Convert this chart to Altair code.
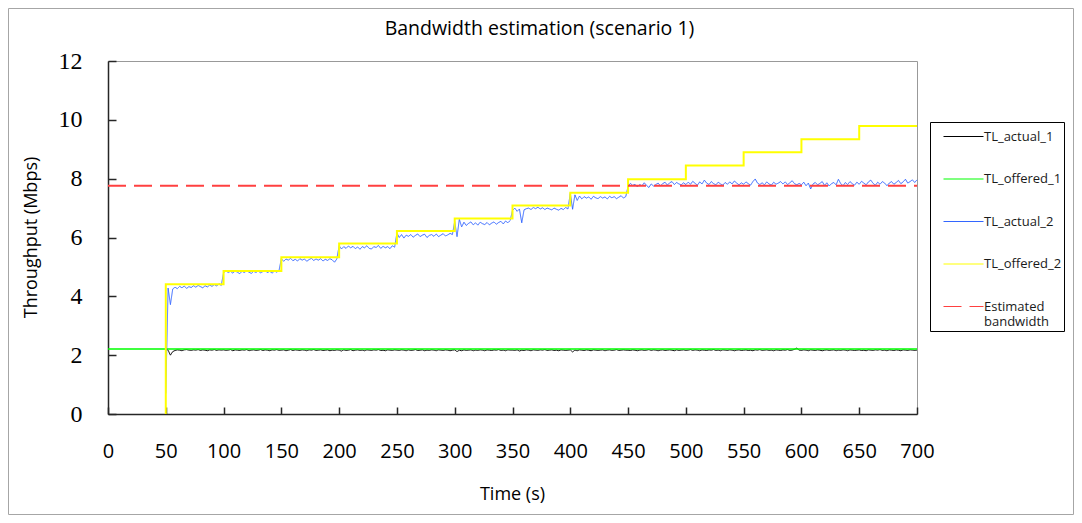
import altair as alt
import pandas as pd

SERIES = ["TL_actual_1", "TL_offered_1", "TL_actual_2", "TL_offered_2", "Estimated bandwidth"]
COLORS = ["#000000", "#00ff00", "#3366ff", "#ffff00", "#ff4040"]
DASHES = [[1, 0], [1, 0], [1, 0], [1, 0], [18, 8]]

X_TICKS = [0, 50, 100, 150, 200, 250, 300, 350, 400, 450, 500, 550, 600, 650, 700]
Y_TICKS = [0, 2, 4, 6, 8, 10, 12]

# TL_offered_1 (constant offered rate of flow 1)
offered1_t = [0, 700]
offered1_v = [2.21, 2.21]

# Estimated bandwidth
est_t = [0, 700]
est_v = [7.76, 7.76]

# TL_offered_2 (step increases every 50 s)
offered2_t = [50, 50, 100, 150, 200, 250, 300, 350, 400, 450, 500, 550, 600, 650, 700]
offered2_v = [0.0, 4.41, 4.86, 5.33, 5.80, 6.22, 6.65, 7.09, 7.52, 7.98, 8.45, 8.90, 9.34, 9.79, 9.79]

# TL_actual_2 sampled every 2 s from t = 50 s
actual2_v = [
    0.7, 4.28, 3.72, 4.25, 4.31, 4.26, 4.34, 4.29, 4.35, 4.27, 4.33, 4.3, 4.36, 4.31, 4.37, 4.33, 4.29, 4.36, 4.32, 4.38, 4.34, 4.4, 4.35, 4.43, 4.37,
    4.8, 4.87, 4.81, 4.85, 4.79, 4.86, 4.82, 4.77, 4.85, 4.81, 4.87, 4.82, 4.78, 4.85, 4.81, 4.86, 4.8, 4.84, 4.87, 4.81, 4.85, 4.79, 4.86, 4.82, 4.88,
    5.28, 5.19, 5.27, 5.23, 5.29, 5.21, 5.26, 5.2, 5.28, 5.23, 5.27, 5.19, 5.25, 5.29, 5.22, 5.27, 5.23, 5.28, 5.2, 5.26, 5.22, 5.28, 5.24, 5.16, 5.27,
    5.72, 5.61, 5.69, 5.63, 5.71, 5.65, 5.7, 5.62, 5.68, 5.6, 5.69, 5.65, 5.72, 5.63, 5.61, 5.69, 5.66, 5.73, 5.63, 5.7, 5.65, 5.69, 5.62, 5.72, 5.67,
    6.15, 6.0, 6.1, 5.98, 6.08, 6.04, 6.1, 6.01, 6.07, 6.12, 6.03, 6.08, 6.11, 6.0, 6.07, 6.1, 6.04, 6.12, 6.03, 6.08, 6.13, 6.05, 6.09, 6.14, 6.1,
    6.54, 6.03, 6.62, 6.36, 6.52, 6.41, 6.48, 6.53, 6.43, 6.5, 6.42, 6.52, 6.47, 6.44, 6.51, 6.43, 6.49, 6.53, 6.45, 6.51, 6.55, 6.46, 6.56, 6.5, 6.58,
    6.92, 7.0, 6.89, 6.97, 6.5, 6.94, 6.98, 7.0, 6.95, 7.02, 6.98, 7.03, 6.97, 7.01, 6.95, 7.0, 6.97, 6.94, 7.0, 6.96, 6.93, 6.99, 6.95, 7.02, 6.97,
    7.5, 6.96, 7.45, 7.26, 7.41, 7.31, 7.39, 7.34, 7.38, 7.3, 7.4, 7.35, 7.32, 7.39, 7.34, 7.38, 7.31, 7.4, 7.35, 7.39, 7.32, 7.37, 7.42, 7.34, 7.39,
    7.74, 7.84, 7.77, 7.81, 7.72, 7.8, 7.76, 7.86, 7.77, 7.7, 7.82, 7.75, 7.8, 7.85, 7.76, 7.83, 7.88, 7.78, 7.86, 7.9, 7.8, 7.87, 7.82, 7.79, 7.86,
    7.8, 7.88, 7.81, 7.91, 7.84, 7.78, 7.89, 7.82, 7.95, 7.85, 7.8, 7.9, 7.83, 7.79, 7.88, 7.82, 7.78, 7.87, 7.81, 7.89, 7.82, 7.92, 7.85, 7.79, 7.86,
    7.81, 7.89, 7.83, 7.78, 7.9, 7.99, 7.85, 7.8, 7.86, 7.79, 7.89, 7.82, 7.78, 7.88, 7.81, 7.85, 7.9, 7.82, 7.89, 7.8, 7.86, 7.93, 7.83, 7.79, 7.84,
    7.79, 7.88, 7.76, 7.85, 7.65, 7.82, 7.87, 7.79, 7.84, 7.9, 7.77, 7.86, 7.75, 7.83, 7.87, 7.79, 7.98, 7.83, 7.76, 7.87, 7.8, 7.9, 7.83, 7.78, 7.88,
    7.81, 7.91, 7.85, 7.79, 7.89, 7.95, 7.84, 7.78, 7.88, 7.81, 7.9, 7.85, 7.76, 7.85, 7.9, 7.81, 7.87, 7.94, 7.83, 7.89, 7.98, 7.85, 7.9, 7.96, 7.87,
    7.96,
]

# TL_actual_1 sampled every 2 s from t = 50 s
actual1_v = [
    2.22, 2.17, 2.0, 2.12, 2.16, 2.18, 2.17, 2.15, 2.18, 2.19, 2.17, 2.16, 2.18, 2.17, 2.19, 2.16, 2.18, 2.17, 2.15, 2.18, 2.17, 2.19, 2.16, 2.18, 2.17,
    2.18, 2.16, 2.17, 2.19, 2.15, 2.18, 2.17, 2.16, 2.18, 2.17, 2.19, 2.15, 2.17, 2.18, 2.16, 2.17, 2.19, 2.16, 2.18, 2.17, 2.15, 2.18, 2.17, 2.19, 2.16,
    2.17, 2.18, 2.15, 2.17, 2.19, 2.16, 2.18, 2.17, 2.16, 2.18, 2.17, 2.15, 2.18, 2.17, 2.19, 2.16, 2.17, 2.18, 2.16, 2.17, 2.18, 2.15, 2.17, 2.16, 2.18,
    2.17, 2.14, 2.18, 2.16, 2.17, 2.19, 2.15, 2.17, 2.18, 2.16, 2.17, 2.15, 2.18, 2.17, 2.16, 2.18, 2.17, 2.19, 2.16, 2.17, 2.15, 2.18, 2.17, 2.16, 2.18,
    2.17, 2.16, 2.18, 2.17, 2.15, 2.18, 2.16, 2.17, 2.19, 2.16, 2.17, 2.18, 2.15, 2.17, 2.16, 2.18, 2.17, 2.15, 2.18, 2.17, 2.16, 2.18, 2.17, 2.15, 2.17,
    2.18, 2.12, 2.17, 2.15, 2.18, 2.16, 2.17, 2.18, 2.15, 2.17, 2.16, 2.18, 2.17, 2.15, 2.18, 2.17, 2.16, 2.18, 2.17, 2.19, 2.16, 2.17, 2.15, 2.18, 2.17,
    2.17, 2.16, 2.18, 2.14, 2.17, 2.16, 2.18, 2.17, 2.15, 2.18, 2.17, 2.16, 2.18, 2.17, 2.19, 2.16, 2.17, 2.18, 2.16, 2.17, 2.15, 2.18, 2.17, 2.16, 2.17,
    2.18, 2.11, 2.17, 2.15, 2.18, 2.17, 2.16, 2.18, 2.17, 2.15, 2.18, 2.17, 2.16, 2.17, 2.18, 2.15, 2.17, 2.18, 2.16, 2.17, 2.19, 2.16, 2.17, 2.18, 2.17,
    2.17, 2.16, 2.18, 2.17, 2.15, 2.17, 2.18, 2.16, 2.17, 2.19, 2.16, 2.18, 2.17, 2.15, 2.17, 2.18, 2.16, 2.17, 2.18, 2.17, 2.15, 2.18, 2.16, 2.17, 2.18,
    2.16, 2.17, 2.19, 2.16, 2.18, 2.17, 2.15, 2.18, 2.17, 2.16, 2.18, 2.17, 2.19, 2.16, 2.17, 2.15, 2.18, 2.17, 2.16, 2.18, 2.17, 2.15, 2.17, 2.18, 2.16,
    2.17, 2.18, 2.16, 2.17, 2.15, 2.18, 2.17, 2.19, 2.16, 2.17, 2.18, 2.16, 2.17, 2.15, 2.18, 2.17, 2.16, 2.18, 2.17, 2.19, 2.16, 2.17, 2.2, 2.24, 2.17,
    2.16, 2.18, 2.17, 2.15, 2.18, 2.17, 2.16, 2.18, 2.17, 2.15, 2.17, 2.18, 2.16, 2.17, 2.18, 2.15, 2.17, 2.16, 2.18, 2.17, 2.15, 2.18, 2.17, 2.16, 2.17,
    2.18, 2.16, 2.17, 2.15, 2.18, 2.17, 2.16, 2.18, 2.17, 2.19, 2.16, 2.17, 2.15, 2.18, 2.17, 2.16, 2.18, 2.17, 2.15, 2.18, 2.17, 2.16, 2.18, 2.17, 2.16,
    2.17,
]

t_start = 50
t_step = 2
actual_t = [t_start + t_step * i for i in range(len(actual2_v))]
actual1_t = [t_start + t_step * i for i in range(len(actual1_v))]

rows = []
for name, ts, vs in [
    ("TL_actual_1", actual1_t, actual1_v),
    ("TL_offered_1", offered1_t, offered1_v),
    ("TL_actual_2", actual_t, actual2_v),
    ("TL_offered_2", offered2_t, offered2_v),
    ("Estimated bandwidth", est_t, est_v),
]:
    for i, (t, v) in enumerate(zip(ts, vs)):
        rows.append({"t": t, "v": v, "series": name, "i": i})
df = pd.DataFrame(rows)

color_scale = alt.Scale(domain=SERIES, range=COLORS)
dash_scale = alt.Scale(domain=SERIES, range=DASHES)

legend = alt.Legend(
    title=None,
    orient="none",
    legendX=822,
    legendY=61,
    strokeColor="#000000",
    padding=2,
    symbolType="M1,1.2H9",
    symbolSize=100,
    symbolStrokeWidth=1.2,
    labelFont="Open Sans",
    labelFontSize=13,
    labelColor="#1a1a1a",
    labelBaseline="top",
    labelOffset=39,
    labelLimit=200,
    rowPadding=22.5,
    labelExpr="datum.label == 'Estimated bandwidth' ? ['Estimated', 'bandwidth'] : datum.label",
)

PLOT_W = 809
PLOT_H = 353
AXIS_COLOR = "#262626"

x_main = alt.Axis(
    orient="bottom", values=X_TICKS, ticks=False, grid=False,
    domainColor=AXIS_COLOR, domainWidth=1.5,
    labelFont="Open Sans", labelFontSize=20, labelColor="#000000",
    labelPadding=27, labelFlush=False, labelOverlap=False,
    labelAlign="center", labelBaseline="top",
    title="Time (s)", titleFont="Open Sans", titleFontSize=18,
    titleFontWeight="normal", titleColor="#000000",
    titleX=404, titleY=80, titleAlign="center", titleBaseline="middle",
)
# labels of the y axis: the axis group is pushed 26 px out, its own line hidden
y_main = alt.Axis(
    orient="left", values=Y_TICKS, ticks=False, grid=False, domain=False,
    offset=26,
    labelFont="Liberation Serif", labelFontSize=24, labelColor="#000000",
    labelPadding=0, labelFlush=False, labelOverlap=False,
    labelAlign="right", labelBaseline="middle",
    title="Throughput (Mbps)", titleFont="Open Sans", titleFontSize=18,
    titleFontWeight="normal", titleColor="#000000",
    titleX=-51, titleY=176, titleAngle=270, titleAlign="center", titleBaseline="middle",
)
# inward-pointing tick marks: axes on the opposite side moved onto the plot edge
x_ticks = alt.Axis(
    orient="top", values=X_TICKS, offset=-PLOT_H, tickSize=7, tickColor=AXIS_COLOR,
    tickWidth=1.5, domain=False, labels=False, grid=False, title=None,
)
y_ticks = alt.Axis(
    orient="right", values=Y_TICKS, offset=-PLOT_W, tickSize=8, tickColor=AXIS_COLOR,
    tickWidth=1.5, domain=True, domainColor=AXIS_COLOR, domainWidth=1.5,
    labels=False, grid=False, title=None,
)

x_scale = alt.Scale(domain=[0, 700], nice=False, zero=False)
y_scale = alt.Scale(domain=[0, 12], nice=False)

WIDTHS = {"TL_actual_1": 1, "TL_offered_1": 1.5, "TL_actual_2": 1, "TL_offered_2": 2, "Estimated bandwidth": 2}
INTERP = {"TL_offered_2": "step-after"}

layers = []
for k, name in enumerate(SERIES):
    if k == 0:
        xa, ya = x_main, y_main
    elif k == 1:
        xa, ya = x_ticks, y_ticks
    else:
        xa, ya = None, None
    mark_kwargs = {"strokeWidth": WIDTHS[name]}
    if name in INTERP:
        mark_kwargs["interpolate"] = INTERP[name]
    layer = (
        alt.Chart(df)
        .transform_filter(alt.datum.series == name)
        .mark_line(**mark_kwargs)
        .encode(
            x=alt.X("t:Q", scale=x_scale, axis=xa),
            y=alt.Y("v:Q", scale=y_scale, axis=ya),
            color=alt.Color("series:N", scale=color_scale, legend=legend),
            strokeDash=alt.StrokeDash("series:N", scale=dash_scale, legend=legend),
            order=alt.Order("i:Q"),
        )
    )
    layers.append(layer)

frame = (
    alt.Chart(alt.Data(values=[{}]))
    .mark_rect(fillOpacity=0, stroke="#a6a6a6", strokeWidth=1)
    .encode(x=alt.value(-99.5), x2=alt.value(965.5), y=alt.value(-52.5), y2=alt.value(453.5))
)

chart = (
    alt.layer(frame, *layers)
    .resolve_axis(x="independent", y="independent")
    .properties(
        width=PLOT_W,
        height=PLOT_H,
        padding={"left": 100, "top": 53, "right": 157, "bottom": 101},
        autosize=alt.AutoSizeParams(type="none"),
        title=alt.TitleParams(
            "Bandwidth estimation (scenario 1)",
            font="Open Sans", fontSize=19.5, fontWeight="normal", color="#000000",
            anchor="middle", frame="group", dx=27, offset=-31,
        ),
    )
    .configure_view(stroke="#999999")
)

chart.save("out.html", embed_options={"renderer": "svg", "actions": False})
